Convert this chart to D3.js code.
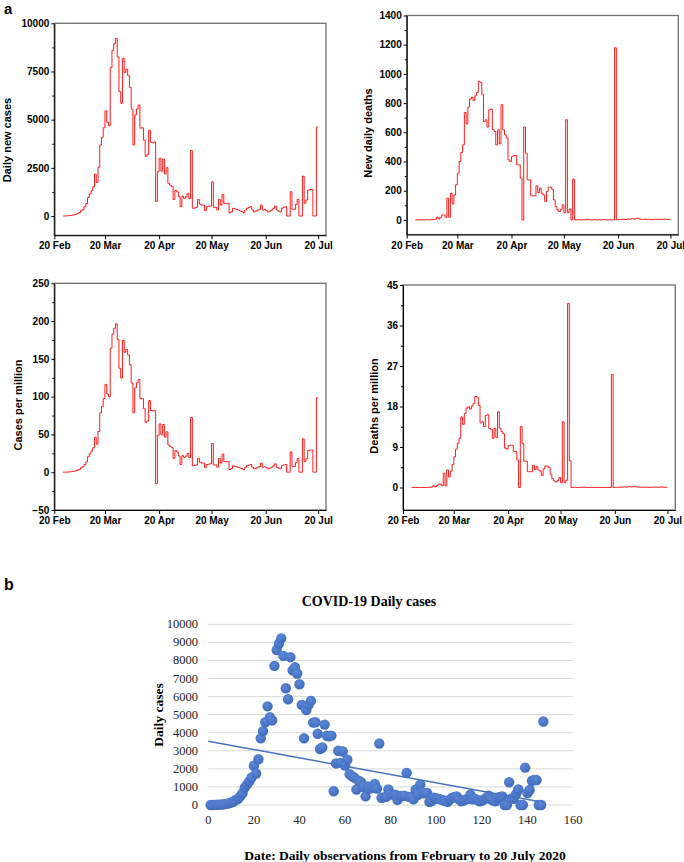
<!DOCTYPE html>
<html><head><meta charset="utf-8">
<script src="https://cdn.jsdelivr.net/npm/d3@7"></script>
<style>
html,body{margin:0;padding:0;background:#fff;}
svg{display:block;}
</style></head><body>
<svg id="c" width="684" height="862"></svg>
<script>
// ---------- DATA (Feb 25 2020 .. Jul 20 2020, one value per day) ----------
const firstDay = Date.UTC(2020, 1, 25);
const dailyCases = [2,3,5,10,20,30,45,60,90,140,180,280,330,480,650,960,1140,1310,1520,2170,
1740,2530,3690,4090,4580,5460,4860,4680,7700,8580,8940,9220,8250,6460,5850,8180,7450,7620,7280,6680,
5540,3690,5250,5550,5760,4560,4580,3940,3100,3180,4450,3830,3800,3840,760,2300,3000,2330,2960,2180,
2510,1700,1600,1520,860,1340,1260,1000,480,1030,910,1000,1170,910,3400,400,420,450,860,620,
570,570,280,480,500,520,1780,450,450,310,860,570,1120,660,650,660,170,220,400,370,
340,310,260,220,170,310,400,440,480,310,210,250,310,340,570,310,340,280,210,250,
310,400,520,310,250,210,400,450,480,0,0,1260,350,350,600,860,0,0,2070,660,
830,1340,1380,1380,0,0,4620];
const dailyDeaths = [0,0,0,0,0,0,0,1,0,1,2,3,5,18,7,18,34,34,18,149,
18,183,110,171,240,320,400,462,514,736,658,773,828,841,818,850,873,949,942,857,
674,686,636,754,759,617,606,514,617,521,789,617,583,560,411,400,434,441,441,377,
377,286,0,636,457,274,274,165,165,165,233,187,217,183,171,126,194,224,224,210,
137,91,69,57,73,103,50,686,50,75,0,279,0,1,2,0,0,1,2,5,
1,0,0,2,1,0,1,0,2,1,0,0,1,0,0,1179,1,3,2,4,
5,3,6,4,7,8,5,10,12,6,4,3,5,2,4,3,1,2,4,3,
5,2,3,6,4,2,3];
const casesPerMillion = [0,0.1,0.1,0.2,0.4,0.6,1.0,1.3,1.9,3.0,3.8,6.0,7.0,10.2,13.8,20.5,24.3,27.9,32.4,46.2,
37.1,53.9,78.6,87.1,97.6,116.3,103.5,99.7,164.0,182.8,190.5,196.4,175.8,137.6,124.6,174.3,158.7,162.3,155.1,142.3,
118.0,78.6,111.8,118.2,122.7,97.1,97.6,83.9,66.0,67.7,94.8,81.6,81.0,81.8,-15.0,49.0,63.9,49.6,63.1,46.4,
53.5,36.2,34.1,32.4,18.3,28.5,26.8,21.3,10.2,21.9,19.4,21.3,24.9,19.4,72.4,8.5,8.9,9.6,18.3,13.2,
12.1,12.1,6.0,10.2,10.7,11.1,37.9,9.6,9.6,6.6,18.3,12.1,23.9,14.1,13.8,14.1,3.6,4.7,8.5,7.9,
7.2,6.6,5.5,4.7,3.6,6.6,8.5,9.4,10.2,6.6,4.5,5.3,6.6,7.2,12.1,6.6,7.2,6.0,4.5,5.3,
6.6,8.5,11.1,6.6,5.3,4.5,8.5,9.6,10.2,0,0,26.8,7.5,7.5,12.8,18.3,0,0,44.1,14.1,
17.7,28.5,29.4,29.4,0,0,98.4];
const deathsPerMillion = [0,0,0,0,0,0,0,0.02,0,0.02,0.04,0.06,0.1,0.38,0.15,0.38,0.72,0.72,0.38,3.17,
0.38,3.9,2.34,3.64,5.11,6.82,8.52,9.84,10.95,15.68,14.02,16.47,17.64,17.92,17.43,18.11,18.6,20.22,20.07,18.26,
14.36,14.61,13.55,16.06,16.17,13.14,12.91,10.95,13.14,11.1,16.81,13.14,12.42,11.93,8.76,8.52,9.25,9.39,9.39,8.03,
8.03,6.09,0,13.55,9.74,5.84,5.84,3.52,3.52,3.52,4.96,3.98,4.62,3.9,3.64,2.68,4.13,4.77,4.77,4.47,
2.92,1.94,1.47,1.21,1.56,2.19,1.07,14.61,1.07,1.6,40.9,5.94,0,0.02,0.04,0,0,0.02,0.04,0.11,
0.02,0,0,0.04,0.02,0,0.02,0,0.04,0.02,0,0,0.02,0,0,25.12,0.02,0.06,0.04,0.09,
0.11,0.06,0.13,0.09,0.15,0.17,0.11,0.21,0.26,0.13,0.09,0.06,0.11,0.04,0.09,0.06,0.02,0.04,0.09,0.06,
0.11,0.04,0.06,0.13,0.09,0.04,0.06];
const dateTickLabels = ["20 Feb","20 Mar","20 Apr","20 May","20 Jun","20 Jul"];
const dateTickValues = [Date.UTC(2020,1,20),Date.UTC(2020,2,20),Date.UTC(2020,3,20),Date.UTC(2020,4,20),Date.UTC(2020,5,20),Date.UTC(2020,6,20)];
const casesTicks = [0,2500,5000,7500,10000];
const deathsTicks = [0,200,400,600,800,1000,1200,1400];
const cpmTicks = [-50,0,50,100,150,200,250];
const dpmTicks = [0,9,18,27,36,45];
const scatterYTicks = [0,1000,2000,3000,4000,5000,6000,7000,8000,9000,10000];
const scatterXTicks = [0,20,40,60,80,100,120,140,160];

// ---------- DRAW ----------
const svg = d3.select("#c");
const SANS = "'Liberation Sans', Arial, sans-serif";
const SERIF = "'Liberation Serif', 'Times New Roman', serif";
const dayMs = 86400000;
const xDomain = [Date.UTC(2020,1,20), Date.UTC(2020,1,20) + 155.5*dayMs];
const fmt = d3.format("d");

function panel(cfg){
  const {x0,x1,y0,y1,ydom,ticks,minor,values,title,tx,ty} = cfg;
  const x = d3.scaleUtc().domain(xDomain).range([x0,x1]);
  const y = d3.scaleLinear().domain(ydom).range([y1,y0]);
  const g = svg.append("g");
  g.append("rect").attr("x",x0).attr("y",y0).attr("width",x1-x0).attr("height",y1-y0)
    .attr("fill","none").attr("stroke","#707070").attr("stroke-width",1.3);
  g.append("g").attr("transform",`translate(${x0},0)`)
    .call(d3.axisLeft(y).tickValues(minor).tickSize(2).tickFormat(""))
    .call(s=>{s.select(".domain").remove(); s.selectAll("line").attr("stroke","#000");});
  const ya = g.append("g").attr("transform",`translate(${x0},0)`)
    .call(d3.axisLeft(y).tickValues(ticks).tickSize(3).tickPadding(2).tickSizeOuter(0).tickFormat(fmt));
  ya.select(".domain").attr("stroke","#000").attr("stroke-width",1.1);
  ya.selectAll("text").attr("font-family",SANS).attr("font-weight","bold").attr("font-size",10).attr("fill","#000");
  const xa = g.append("g").attr("transform",`translate(0,${y1})`)
    .call(d3.axisBottom(x).tickValues(dateTickValues).tickSize(4).tickPadding(3).tickSizeOuter(0)
      .tickFormat((d,i)=>dateTickLabels[i]));
  xa.select(".domain").attr("stroke","#000").attr("stroke-width",1.1);
  xa.selectAll("text").attr("font-family",SANS).attr("font-weight","bold").attr("font-size",10).attr("fill","#000");
  const line = d3.line().curve(d3.curveStepBefore)
    .x((d,i)=>x(firstDay + i*dayMs)).y(d=>y(d));
  g.append("path").datum(values).attr("d",line).attr("fill","none")
    .attr("stroke","#ff1a1a").attr("stroke-width",1);
  g.append("text").attr("transform",`translate(${tx},${ty}) rotate(-90)`)
    .attr("text-anchor","middle").attr("dominant-baseline","central")
    .attr("font-family",SANS).attr("font-weight","bold").attr("font-size",11).text(title);
}
const rng=(a,b,s)=>d3.range(a,b+s/2,s);
panel({x0:54.3,x1:326,y0:23.3,y1:235.3,ydom:[-1000,10000],ticks:casesTicks,minor:rng(1250,8750,2500),
  values:dailyCases,title:"Daily new cases",tx:7,ty:140});
panel({x0:406.7,x1:678.3,y0:15.5,y1:234.5,ydom:[-100,1400],ticks:deathsTicks,minor:rng(100,1300,200),
  values:dailyDeaths,title:"New daily deaths",tx:368,ty:133});
panel({x0:54.3,x1:326,y0:283.3,y1:510,ydom:[-50,250],ticks:cpmTicks,minor:rng(-25,225,50),
  values:casesPerMillion,title:"Cases per million",tx:18,ty:405});
panel({x0:403,x1:675.3,y0:285,y1:510,ydom:[-5,45],ticks:dpmTicks,minor:rng(4.5,40.5,9),
  values:deathsPerMillion,title:"Deaths per million",tx:374,ty:406});

svg.append("text").attr("x",4).attr("y",14).attr("font-family",SANS).attr("font-weight","bold")
  .attr("font-size",15).text("a");
svg.append("text").attr("x",4).attr("y",590).attr("font-family",SANS).attr("font-weight","bold")
  .attr("font-size",16).text("b");

// ---------- scatter ----------
const sx = d3.scaleLinear().domain([0,160]).range([208.3,573]);
const sy = d3.scaleLinear().domain([0,10000]).range([805,624.3]);
const sg = svg.append("g");
sg.append("g").selectAll("line").data(scatterYTicks).join("line")
  .attr("x1",sx(0)).attr("x2",sx(160)).attr("y1",d=>sy(d)).attr("y2",d=>sy(d))
  .attr("stroke","#d9d9d9").attr("stroke-width",1);
sg.append("g").selectAll("text").data(scatterYTicks).join("text")
  .attr("x",198).attr("y",d=>sy(d)).attr("text-anchor","end").attr("dominant-baseline","central")
  .attr("font-family",SERIF).attr("font-size",12.5).attr("fill","#222").text(d=>d);
sg.append("g").selectAll("text").data(scatterXTicks).join("text")
  .attr("x",d=>sx(d)).attr("y",820).attr("text-anchor","middle").attr("dominant-baseline","central")
  .attr("font-family",SERIF).attr("font-size",12.5).attr("fill","#222").text(d=>d);
const defs = svg.append("defs");
const gr = defs.append("radialGradient").attr("id","pt").attr("cx","40%").attr("cy","35%").attr("r","65%");
gr.append("stop").attr("offset","0%").attr("stop-color","#5b88d6");
gr.append("stop").attr("offset","100%").attr("stop-color","#3f6cbd");
const pts = dailyCases.map((v,i)=>[i+1,v]);
sg.append("g").selectAll("circle").data(pts).join("circle")
  .attr("cx",d=>sx(d[0])).attr("cy",d=>sy(d[1])).attr("r",5.2).attr("fill","url(#pt)");
const mx = d3.mean(pts,d=>d[0]), my = d3.mean(pts,d=>d[1]);
const slope = d3.sum(pts,d=>(d[0]-mx)*(d[1]-my))/d3.sum(pts,d=>(d[0]-mx)**2);
const icpt = my - slope*mx;
sg.append("line").attr("x1",sx(0)).attr("y1",sy(icpt)).attr("x2",sx(145)).attr("y2",sy(icpt+slope*145))
  .attr("stroke","#4472c4").attr("stroke-width",1.5);
svg.append("text").attr("x",369).attr("y",601).attr("text-anchor","middle").attr("dominant-baseline","central")
  .attr("font-family",SERIF).attr("font-weight","bold").attr("font-size",14).text("COVID-19 Daily cases");
svg.append("text").attr("transform","translate(158,715) rotate(-90)").attr("text-anchor","middle")
  .attr("dominant-baseline","central").attr("font-family",SERIF).attr("font-weight","bold").attr("font-size",13.5)
  .text("Daily cases");
svg.append("text").attr("x",405).attr("y",855).attr("text-anchor","middle").attr("dominant-baseline","central")
  .attr("font-family",SERIF).attr("font-weight","bold").attr("font-size",13.5)
  .text("Date: Daily observations from February to 20 July 2020");
</script>
</body></html>
